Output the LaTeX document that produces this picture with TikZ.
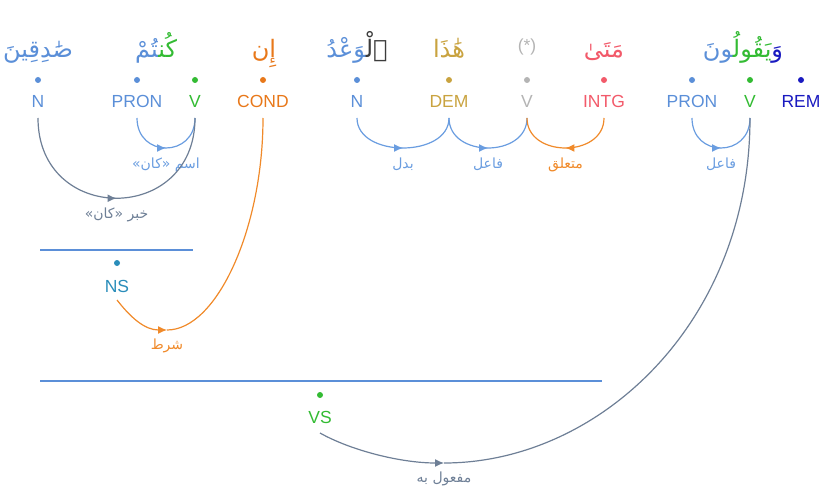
\documentclass[tikz,border=0pt]{standalone}
\usepackage{fontspec}
\setmainfont{Liberation Sans}
\newfontfamily\arabicfont[Script=Arabic]{DejaVu Sans}
\TeXXeTstate=1
\usetikzlibrary{arrows.meta,decorations.markings}

% part-of-speech colours
\definecolor{cN}{HTML}{5B8FD8}
\definecolor{cV}{HTML}{33BB33}
\definecolor{cCond}{HTML}{E8781A}
\definecolor{cDet}{HTML}{3C3C3C}
\definecolor{cDem}{HTML}{C9A340}
\definecolor{cGray}{HTML}{B4B4B4}
\definecolor{cIntg}{HTML}{F25A6A}
\definecolor{cRem}{HTML}{1A1AC0}
\definecolor{cNS}{HTML}{2A8DBA}
% dependency arc colours
\definecolor{arcBlue}{HTML}{6A9DE0}
\definecolor{arcGray}{HTML}{6E7F96}
\definecolor{arcOrange}{HTML}{F08A2A}

\tikzset{
  word/.style={anchor=base, inner sep=0pt, font=\arabicfont\fontsize{24}{28}\selectfont},
  dot/.style={circle, fill, inner sep=0pt, minimum size=6pt},
  tag/.style={anchor=base, inner sep=0pt, outer ysep=10pt, text depth=0pt,
    font=\fontsize{17.5}{20}\selectfont},
  lbl/.style={font=\arabicfont\fontsize{14}{17}\selectfont, inner sep=0pt},
  dep/.style={line width=1.2pt},
  midarrow/.style={decoration={markings,
      mark=at position 0.5 with {\arrow{Latex[length=9pt,width=8pt]}}},
    postaction={decorate}},
  tip/.style={-{Latex[length=9pt,width=8pt]}},
  span/.style={draw=cN, line width=1.2pt},
}

\begin{document}
\begin{tikzpicture}[x=1pt,y=-1pt]
\useasboundingbox (0,0) rectangle (820,492);

% word forms (pieces of a word written left to right in visual order)
\node[word] (w1) at (38,58)  {\textcolor{cN}{صَٰدِقِينَ}};
\node[word] (w2) at (156,58) {\textcolor{cN}{‍تُمْ}\textcolor{cV}{كُن‍}};
\node[word] (w3) at (264,58) {\textcolor{cCond}{إِن}};
\node[word] (w4) at (357,58) {\textcolor{cN}{‍وَعْدُ}\textcolor{cDet}{ٱلْ‍}};
\node[word] (w5) at (449,58) {\textcolor{cDem}{هَٰذَا}};
\node[anchor=base, inner sep=0pt, text=cGray, font=\fontsize{17.5}{20}\selectfont] (w6) at (527,52) {(*)};
\node[word] (w7) at (604,58) {\textcolor{cIntg}{مَتَىٰ}};
\node[word] (w8) at (743,58) {\textcolor{cN}{‍ونَ}\textcolor{cV}{يَقُولُ‍}\textcolor{cRem}{وَ}};

% segment dots
\node[dot, cN]    (d1)  at (38,80)  {};
\node[dot, cN]    (d2)  at (137,80) {};
\node[dot, cV]    (d3)  at (195,80) {};
\node[dot, cCond] (d4)  at (263,80) {};
\node[dot, cN]    (d5)  at (357,80) {};
\node[dot, cDem]  (d6)  at (449,80) {};
\node[dot, cGray] (d7)  at (527,80) {};
\node[dot, cIntg] (d8)  at (604,80) {};
\node[dot, cN]    (d9)  at (692,80) {};
\node[dot, cV]    (d10) at (750,80) {};
\node[dot, cRem]  (d11) at (801,80) {};

% segment tags
\node[tag, text=cN]    (t1)  at (38,108)  {N};
\node[tag, text=cN]    (t2)  at (137,108) {PRON};
\node[tag, text=cV]    (t3)  at (195,108) {V};
\node[tag, text=cCond] (t4)  at (263,108) {COND};
\node[tag, text=cN]    (t5)  at (357,108) {N};
\node[tag, text=cDem]  (t6)  at (449,108) {DEM};
\node[tag, text=cGray] (t7)  at (527,108) {V};
\node[tag, text=cIntg] (t8)  at (604,108) {INTG};
\node[tag, text=cN]    (t9)  at (692,108) {PRON};
\node[tag, text=cV]    (t10) at (750,108) {V};
\node[tag, text=cRem]  (t11) at (801,108) {REM};

% phrase spans
\draw[span] (40,250) -- (193,250);
\node[dot, cNS] (dns) at (117,263) {};
\node[tag, text=cNS, outer ysep=8pt] (ns) at (117,292) {NS};

\draw[span] (40,381) -- (602,381);
\node[dot, cV] (dvs) at (320,395) {};
\node[tag, text=cV] (vs) at (320,423) {VS};

% dependency arcs
\draw[dep, arcBlue, midarrow] (t2.south) .. controls +(0,40) and +(0,40) .. (t3.south)
  node[lbl, text=arcBlue, pos=.5, below=9pt] (l1) {\beginR اسم «كان»\endR};
\draw[dep, arcGray, midarrow] (t1.south) .. controls +(0,107) and +(0,107) .. (t3.south)
  node[lbl, text=arcGray, pos=.5, below=9pt] (l2) {\beginR خبر «كان»\endR};
\draw[dep, arcBlue, midarrow] (t5.south) .. controls +(0,40) and +(0,40) .. (t6.south)
  node[lbl, text=arcBlue, pos=.5, below=9pt] (l3) {بدل};
\draw[dep, arcBlue, midarrow] (t6.south) .. controls +(0,40) and +(0,40) .. (t7.south)
  node[lbl, text=arcBlue, pos=.5, below=9pt] (l4) {فاعل};
\draw[dep, arcOrange, midarrow] (t8.south) .. controls +(0,40) and +(0,40) .. (t7.south)
  node[lbl, text=arcOrange, pos=.5, below=9pt] (l5) {متعلق};
\draw[dep, arcBlue, midarrow] (t9.south) .. controls +(0,40) and +(0,40) .. (t10.south)
  node[lbl, text=arcBlue, pos=.5, below=9pt] (l6) {فاعل};

% condition arc: NS -> COND
\coordinate (b1) at (167,330);
\draw[dep, arcOrange, tip] (ns.south) .. controls +(14,18) and +(-22,0) .. (b1);
\draw[dep, arcOrange] (b1) .. controls +(50,0) and +(0,110) .. (t4.south);
\node[lbl, text=arcOrange, below=9pt] (l7) at (b1) {شرط};

% object arc: VS -> V
\coordinate (b2) at (444,463);
\draw[dep, arcGray, tip] (vs.south) .. controls +(30,17) and +(-44,0) .. (b2);
\draw[dep, arcGray] (b2) .. controls +(155,0) and +(0,205) .. (t10.south);
\node[lbl, text=arcGray, below=9pt] (l8) at (b2) {\beginR مفعول به\endR};
\end{tikzpicture}
\end{document}
